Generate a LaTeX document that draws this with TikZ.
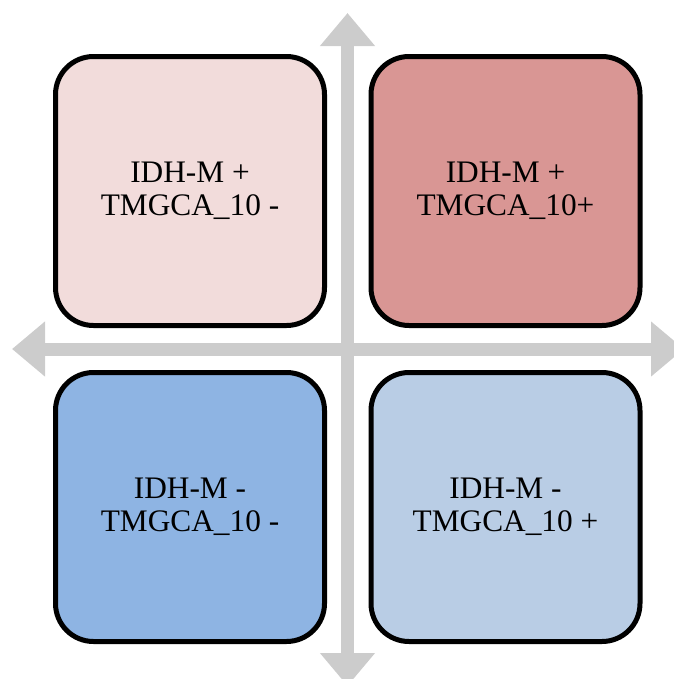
\documentclass[tikz,border=0pt]{standalone}
\usepackage{fontspec}
\setmainfont{Liberation Serif}
\usetikzlibrary{arrows.meta}
\definecolor{pinklight}{HTML}{F2DCDB}
\definecolor{pinkdark}{HTML}{D99694}
\definecolor{bluedark}{HTML}{8EB4E3}
\definecolor{bluelight}{HTML}{B9CDE5}
\definecolor{axisgray}{HTML}{CCCCCC}
\newcommand{\quadfont}{\fontsize{23.5}{25}\selectfont}
\begin{document}
\begin{tikzpicture}[x=0.75pt, y=-0.75pt,
    quad/.style={draw, line width=3.75pt, rounded corners=28.5pt,
      minimum width=201.75pt, minimum height=201.75pt,
      inner sep=0pt, align=center, font=\quadfont},
    axis/.style={draw=axisgray, line width=9.75pt,
      {Triangle[width=39.75pt,length=24.75pt]}-{Triangle[width=39.75pt,length=24.75pt]}}]
  \clip (0,0) rectangle (674,679);
  \coordinate (N) at (347.5, 13);
  \coordinate (S) at (347.5,686);
  \coordinate (W) at ( 12,  349);
  \coordinate (E) at (684,  349);
  \draw [axis] (W) -- (E);
  \draw [axis] (N) -- (S);
  \path (190, 191) node [quad, fill=pinklight] (MpTm) {IDH-M +\\ TMGCA\_10 -}
        (505.5, 191) node [quad, fill=pinkdark] (MpTp) {IDH-M +\\ TMGCA\_10+}
        (190, 507) node [quad, fill=bluedark] (MmTm) {IDH-M -\\ TMGCA\_10 -}
        (505.5, 507) node [quad, fill=bluelight] (MmTp) {IDH-M -\\ TMGCA\_10 +};
\end{tikzpicture}
\end{document}
